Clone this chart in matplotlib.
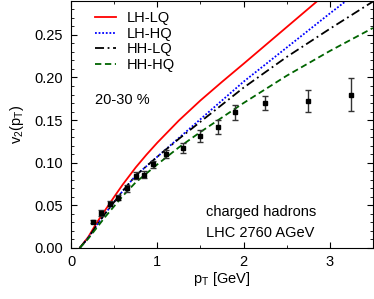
import numpy as np
import matplotlib
matplotlib.use("Agg")
import matplotlib.pyplot as plt
from matplotlib.ticker import MultipleLocator

plt.rcParams['font.family'] = ['Liberation Sans', 'DejaVu Sans']
plt.rcParams['font.size'] = 10.5

# hydro curves
x_lh_lq = [0.1, 0.2, 0.3, 0.4, 0.5, 0.6, 0.75, 0.875, 1.0, 1.25, 1.5, 1.75, 2.0, 2.5, 3.0]
v_lh_lq = [0.0, 0.013, 0.030, 0.045, 0.060, 0.0745, 0.0945, 0.1095, 0.1235, 0.1495, 0.173, 0.1948, 0.216, 0.259, 0.302]

x_lh_hq = [0.1, 0.2, 0.3, 0.4, 0.5, 0.6, 0.75, 1.0, 1.25, 1.5, 1.75, 2.0, 2.5, 3.0, 3.5]
v_lh_hq = [0.0, 0.012, 0.027, 0.041, 0.054, 0.067, 0.085, 0.107, 0.129, 0.151, 0.173, 0.195, 0.235, 0.275, 0.314]

x_hh_lq = [0.1, 0.2, 0.3, 0.4, 0.5, 0.6, 0.75, 1.0, 1.25, 1.5, 1.75, 2.0, 2.5, 3.0, 3.5]
v_hh_lq = [0.0, 0.012, 0.027, 0.041, 0.054, 0.067, 0.085, 0.107, 0.128, 0.148, 0.168, 0.188, 0.224, 0.257, 0.289]

x_hh_hq = [0.1, 0.2, 0.3, 0.4, 0.5, 0.6, 0.75, 1.0, 1.25, 1.5, 1.75, 2.0, 2.5, 3.0, 3.5]
v_hh_hq = [0.0, 0.011, 0.024, 0.037, 0.049, 0.061, 0.077, 0.098, 0.118, 0.136, 0.153, 0.170, 0.202, 0.231, 0.258]

# data points
pt = [0.25, 0.35, 0.45, 0.55, 0.65, 0.75, 0.85, 0.95, 1.1, 1.3, 1.5, 1.7, 1.9, 2.25, 2.75, 3.25]
v2 = [0.031, 0.041, 0.052, 0.059, 0.070, 0.085, 0.086, 0.098, 0.110, 0.117, 0.131, 0.142, 0.159, 0.170, 0.172, 0.180]
err = [0.002, 0.003, 0.003, 0.003, 0.004, 0.004, 0.004, 0.004, 0.005, 0.006, 0.007, 0.008, 0.009, 0.008, 0.013, 0.019]

fig = plt.figure(figsize=(3.74, 2.99), dpi=100)
ax = fig.add_axes([0.19, 0.1706, 0.807, 0.827])

ax.plot(x_lh_lq, v_lh_lq, color='red', lw=1.3, ls='-', label='LH-LQ')
ax.plot(x_lh_hq, v_lh_hq, color='blue', lw=1.3, ls=(0, (1, 1)), label='LH-HQ')
ax.plot(x_hh_lq, v_hh_lq, color='black', lw=1.3, ls=(0, (5, 2, 1, 2)), label='HH-LQ')
ax.plot(x_hh_hq, v_hh_hq, color='darkgreen', lw=1.3, ls=(0, (3.5, 2)), label='HH-HQ')
ax.errorbar(pt, v2, yerr=err, fmt='s', color='black', ecolor='#333333', ms=3, capsize=2, elinewidth=1, capthick=1)

ax.set_xlim(0, 3.5)
ax.set_ylim(0, 0.29)
ax.xaxis.set_major_locator(MultipleLocator(1))
ax.xaxis.set_minor_locator(MultipleLocator(0.5))
ax.yaxis.set_major_locator(MultipleLocator(0.05))
ax.yaxis.set_minor_locator(MultipleLocator(0.01))
ax.yaxis.set_major_formatter(plt.FormatStrFormatter('%.2f'))
ax.tick_params(which='both', direction='in', top=True, right=True)
ax.tick_params(which='major', length=4)
ax.tick_params(which='minor', length=2)
ax.tick_params(axis='y', which='major', pad=6)
ax.tick_params(axis='x', which='major', pad=5)

ax.set_xlabel('p$_\\mathregular{T}$ [GeV]', labelpad=1)
ax.set_ylabel('v$_\\mathregular{2}$(p$_\\mathregular{T}$)', labelpad=6)

ax.legend(loc='upper left', frameon=False, handlelength=1.45, labelspacing=0.12,
          borderaxespad=0.3, handletextpad=0.75, bbox_to_anchor=(0.045, 1.0))
ax.text(0.28, 0.174, '20-30 %', va='center')
ax.text(1.56, 0.042, 'charged hadrons', va='center')
ax.text(1.56, 0.0176, 'LHC 2760 AGeV', va='center')

fig.savefig('out.png', dpi=100)
